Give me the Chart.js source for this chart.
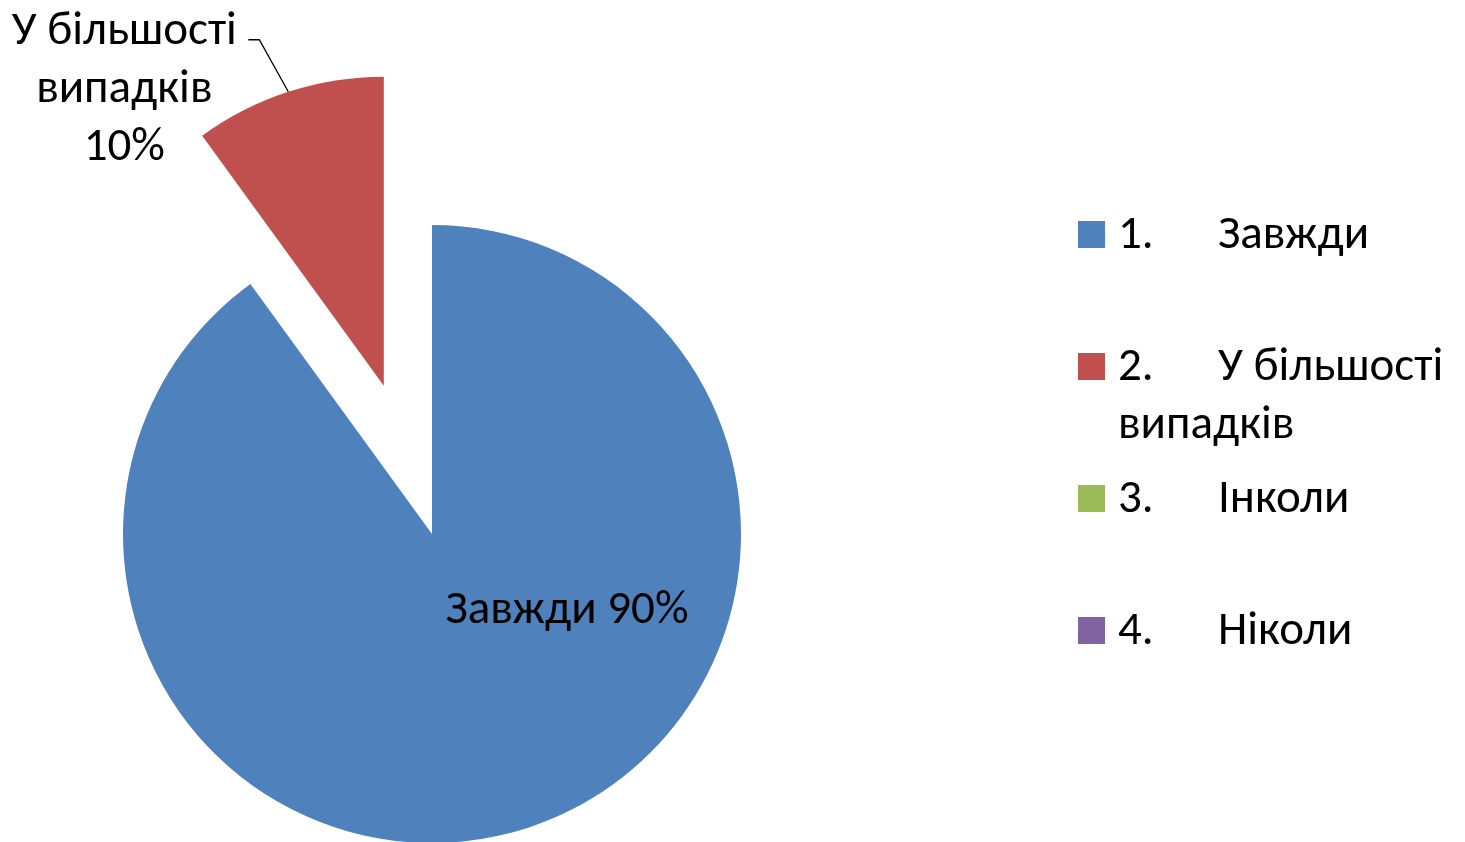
<!DOCTYPE html>
<html><head><meta charset="utf-8">
<script src="https://cdn.jsdelivr.net/npm/chart.js@4/dist/chart.umd.min.js"></script>
<style>html,body{margin:0;padding:0;background:#fff;overflow:hidden}#wrap{width:1465px;height:842px;position:relative}</style>
</head><body><div id="wrap"><canvas id="c"></canvas></div>
<script>
const categories = ["Завжди", "У більшості випадків", "Інколи", "Ніколи"];
const values = [90, 10, 0, 0];
const colors = ["#4F81BD", "#C0504D", "#9BBB59", "#8064A2"];
const explode = [0, 156, 0, 0];

const FONT_FAMILY = "Carlito, Lato, 'Open Sans', sans-serif";
const FONT_SIZE = 47;
const FONT = FONT_SIZE + "px " + FONT_FAMILY;
const LINE_H = 58;

function wrapWords(ctx, text, firstMax, restMax) {
  const words = text.split(" ");
  const lines = [];
  let cur = "";
  for (const w of words) {
    const test = cur ? cur + " " + w : w;
    const max = lines.length === 0 ? firstMax : restMax;
    if (cur && ctx.measureText(test).width > max) { lines.push(cur); cur = w; }
    else cur = test;
  }
  if (cur) lines.push(cur);
  return lines;
}

const explodePlugin = {
  id: "explode",
  afterDatasetUpdate(chart, args) {
    args.meta.data.forEach((arc, i) => {
      const d = explode[i] || 0;
      if (!d) return;
      const mid = (arc.startAngle + arc.endAngle) / 2;
      arc.x += Math.cos(mid) * d;
      arc.y += Math.sin(mid) * d;
    });
  }
};

const labelPlugin = {
  id: "pieLabels",
  afterDatasetsDraw(chart) {
    const ctx = chart.ctx;
    const meta = chart.getDatasetMeta(0);
    const total = values.reduce((a, b) => a + b, 0);
    ctx.save();
    ctx.font = FONT;
    ctx.fillStyle = "#000";
    ctx.textBaseline = "alphabetic";
    meta.data.forEach((arc, i) => {
      if (!values[i]) return;
      const pct = Math.round(values[i] / total * 100) + "%";
      const text = categories[i] + " " + pct;
      if (i === 0) {
        ctx.textAlign = "center";
        ctx.fillText(text, arc.x + 135, arc.y + 89);
      } else {
        const mid = (arc.startAngle + arc.endAngle) / 2;
        const ex = arc.x + Math.cos(mid) * arc.outerRadius;
        const ey = arc.y + Math.sin(mid) * arc.outerRadius;
        const elx = ex - 29, ely = ey - 52;
        ctx.strokeStyle = "#000";
        ctx.lineWidth = 1.3;
        ctx.beginPath();
        ctx.moveTo(ex, ey);
        ctx.lineTo(elx, ely);
        ctx.lineTo(elx - 11, ely);
        ctx.stroke();
        const lines = wrapWords(ctx, text, 240, 240);
        ctx.textAlign = "center";
        lines.forEach((ln, k) => ctx.fillText(ln, ex - 164, ey - 48 + k * LINE_H));
      }
    });
    ctx.restore();
  }
};

const legendPlugin = {
  id: "sideLegend",
  afterDraw(chart) {
    const ctx = chart.ctx;
    ctx.save();
    ctx.font = FONT;
    ctx.fillStyle = "#000";
    ctx.textAlign = "left";
    ctx.textBaseline = "alphabetic";
    categories.forEach((c, i) => {
      const base = 248 + i * 132;
      ctx.fillStyle = colors[i];
      ctx.fillRect(1078, base - 27, 27, 27);
      ctx.fillStyle = "#000";
      ctx.fillText((i + 1) + ".", 1118, base);
      const lines = wrapWords(ctx, c, 1460 - 1218, 1460 - 1118);
      lines.forEach((ln, k) => ctx.fillText(ln, k === 0 ? 1218 : 1118, base + k * LINE_H));
    });
    ctx.restore();
  }
};

new Chart(document.getElementById("c"), {
  type: "pie",
  data: {
    labels: categories,
    datasets: [{
      data: values,
      backgroundColor: colors,
      borderWidth: 0,
      hoverOffset: 0
    }]
  },
  options: {
    responsive: true,
    maintainAspectRatio: false,
    animation: false,
    radius: 309,
    layout: { padding: { left: 0, right: 601, top: 226, bottom: 0 } },
    plugins: { legend: { display: false }, tooltip: { enabled: false } },
    events: []
  },
  plugins: [explodePlugin, labelPlugin, legendPlugin]
});
</script>
</body></html>
